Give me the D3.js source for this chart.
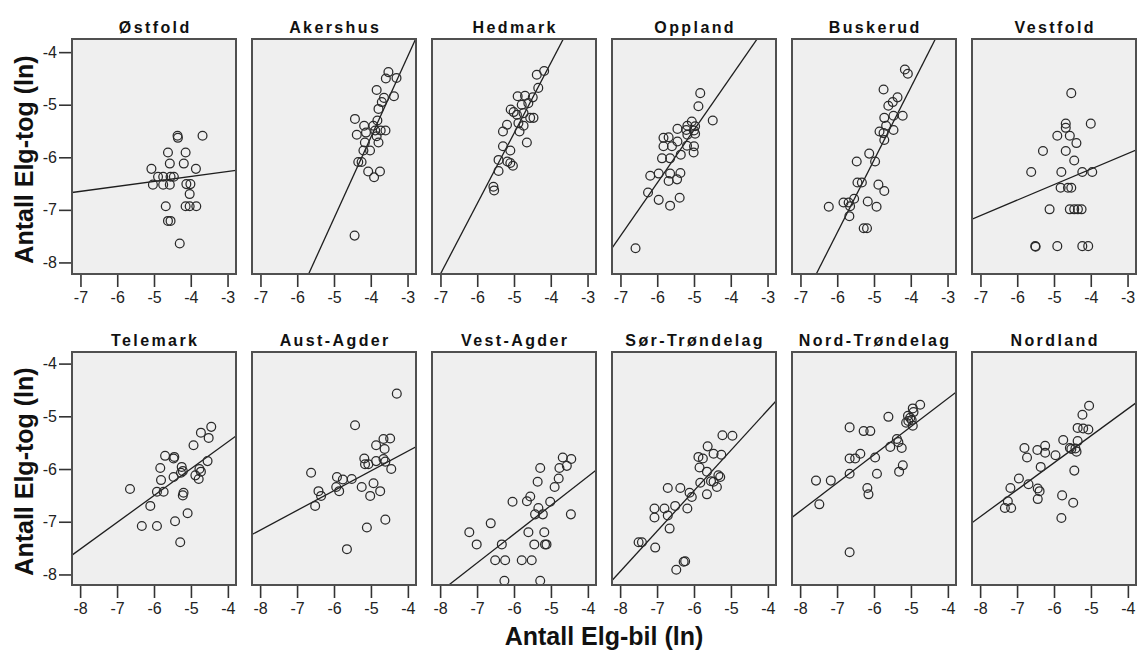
<!DOCTYPE html>
<html>
<head>
<meta charset="utf-8">
<script src="https://cdn.jsdelivr.net/npm/d3@7"></script>
<style>
  html, body { margin: 0; padding: 0; background: #ffffff; }
  svg { display: block; font-family: "Liberation Sans", Arial, sans-serif; }
</style>
</head>
<body>
<svg id="chart" width="1138" height="651"></svg>
<script>
// Moose collisions per county: ln(train collisions) against ln(car collisions)
const counties = ["Østfold", "Akershus", "Hedmark", "Oppland", "Buskerud", "Vestfold",
                  "Telemark", "Aust-Agder", "Vest-Agder", "Sør-Trøndelag", "Nord-Trøndelag", "Nordland"];

// Each point: [ln(Elg-bil), ln(Elg-tog)]
const ostfold = [[-4.36,-5.59],[-4.35,-5.63],[-3.68,-5.59],[-4.62,-5.91],[-4.14,-5.91],[-4.57,-6.12],
  [-4.19,-6.12],[-5.07,-6.22],[-3.86,-6.22],[-4.89,-6.37],[-4.75,-6.37],[-4.55,-6.37],[-4.46,-6.37],
  [-5.03,-6.52],[-4.75,-6.52],[-4.57,-6.52],[-4.12,-6.51],[-4.01,-6.51],[-4.03,-6.70],[-4.68,-6.93],
  [-4.14,-6.93],[-4.03,-6.93],[-3.85,-6.93],[-4.62,-7.21],[-4.55,-7.21],[-4.30,-7.64]];
const akershus = [[-3.52,-4.38],[-3.59,-4.50],[-3.30,-4.49],[-3.84,-4.72],[-3.64,-4.87],[-3.37,-4.84],
  [-3.70,-4.95],[-3.79,-5.08],[-4.43,-5.27],[-3.82,-5.30],[-4.18,-5.40],[-3.93,-5.40],[-4.38,-5.57],
  [-4.13,-5.53],[-3.88,-5.49],[-3.73,-5.49],[-3.60,-5.49],[-4.16,-5.72],[-3.79,-5.72],[-3.84,-5.60],
  [-4.20,-5.87],[-4.02,-5.87],[-4.34,-6.09],[-4.25,-6.09],[-4.07,-6.27],[-3.75,-6.27],[-3.91,-6.38],
  [-4.44,-7.49]];
const hedmark = [[-4.38,-4.43],[-4.18,-4.36],[-4.34,-4.68],[-4.90,-4.84],[-4.70,-4.83],[-4.49,-4.86],
  [-4.79,-5.00],[-4.61,-4.97],[-5.09,-5.09],[-5.01,-5.14],[-4.92,-5.19],[-4.74,-5.16],[-4.56,-5.25],
  [-4.47,-5.25],[-5.19,-5.38],[-4.88,-5.35],[-4.74,-5.40],[-5.30,-5.51],[-4.85,-5.51],[-4.65,-5.72],
  [-5.30,-5.79],[-5.10,-5.87],[-5.42,-6.05],[-5.18,-6.08],[-5.10,-6.11],[-5.03,-6.16],[-5.42,-6.26],
  [-5.56,-6.56],[-5.54,-6.63]];
const oppland = [[-4.83,-4.78],[-4.88,-5.03],[-4.49,-5.30],[-5.06,-5.32],[-5.18,-5.40],[-4.97,-5.41],
  [-5.00,-5.49],[-5.45,-5.46],[-5.21,-5.48],[-5.83,-5.63],[-5.69,-5.62],[-5.18,-5.57],[-4.97,-5.55],
  [-5.45,-5.70],[-5.83,-5.79],[-5.60,-5.79],[-5.19,-5.78],[-5.00,-5.79],[-5.01,-5.91],[-5.87,-6.02],
  [-5.65,-6.02],[-5.36,-5.95],[-6.19,-6.35],[-5.96,-6.31],[-5.65,-6.31],[-5.37,-6.30],[-5.69,-6.45],
  [-5.46,-6.42],[-6.25,-6.67],[-5.96,-6.81],[-5.39,-6.77],[-5.65,-6.92],[-6.59,-7.73]];
const buskerud = [[-4.16,-4.33],[-4.08,-4.41],[-4.74,-4.71],[-4.36,-4.86],[-4.49,-4.95],[-4.61,-5.02],
  [-4.72,-5.25],[-4.47,-5.21],[-4.22,-5.21],[-4.67,-5.40],[-4.85,-5.51],[-4.47,-5.48],[-4.74,-5.54],
  [-4.72,-5.67],[-5.13,-5.93],[-5.47,-6.08],[-4.97,-6.08],[-5.45,-6.48],[-5.33,-6.48],[-4.88,-6.52],
  [-4.72,-6.64],[-5.54,-6.79],[-6.23,-6.94],[-5.83,-6.86],[-5.69,-6.86],[-5.65,-6.93],[-5.17,-6.84],
  [-4.93,-6.94],[-5.67,-7.12],[-5.28,-7.35],[-5.19,-7.35]];
const vestfold = [[-4.53,-4.78],[-4.68,-5.36],[-4.00,-5.36],[-4.68,-5.44],[-4.91,-5.59],[-4.57,-5.59],
  [-4.39,-5.73],[-5.30,-5.88],[-4.68,-5.88],[-4.45,-6.06],[-5.62,-6.28],[-4.80,-6.28],[-4.23,-6.28],
  [-3.96,-6.28],[-4.82,-6.58],[-4.62,-6.58],[-4.53,-6.58],[-5.12,-6.99],[-4.57,-6.99],[-4.45,-6.99],
  [-4.35,-6.99],[-4.25,-6.99],[-5.51,-7.69],[-5.50,-7.70],[-4.91,-7.69],[-4.23,-7.69],[-4.07,-7.69]];
const telemark = [[-4.45,-5.20],[-4.73,-5.31],[-4.52,-5.41],[-4.93,-5.55],[-5.70,-5.75],[-5.45,-5.77],
  [-5.47,-5.80],[-4.55,-5.85],[-5.83,-5.98],[-5.25,-5.96],[-5.22,-6.04],[-5.27,-6.07],[-4.77,-6.00],
  [-4.73,-6.05],[-4.88,-6.12],[-4.79,-6.19],[-5.47,-6.15],[-5.81,-6.21],[-6.65,-6.38],[-5.92,-6.43],
  [-5.74,-6.43],[-5.20,-6.45],[-5.22,-6.50],[-6.10,-6.70],[-5.09,-6.84],[-6.33,-7.08],[-5.92,-7.08],
  [-5.43,-6.99],[-5.29,-7.39]];
const austAgder = [[-4.30,-4.57],[-5.43,-5.17],[-4.66,-5.43],[-4.48,-5.42],[-4.86,-5.55],[-4.63,-5.62],
  [-5.18,-5.80],[-5.16,-5.91],[-5.07,-5.91],[-4.86,-5.85],[-4.66,-5.81],[-4.61,-5.86],[-4.45,-6.00],
  [-6.62,-6.07],[-5.92,-6.15],[-5.76,-6.20],[-5.52,-6.19],[-5.94,-6.34],[-5.86,-6.42],[-5.25,-6.34],
  [-4.93,-6.27],[-4.75,-6.42],[-6.42,-6.42],[-6.35,-6.51],[-5.02,-6.51],[-6.51,-6.70],[-4.61,-6.96],
  [-5.11,-7.11],[-5.65,-7.52]];
const vestAgder = [[-4.68,-5.78],[-4.45,-5.81],[-4.77,-5.98],[-4.57,-5.94],[-5.29,-5.98],[-4.79,-6.18],
  [-5.36,-6.24],[-4.90,-6.34],[-5.56,-6.52],[-5.65,-6.61],[-6.04,-6.62],[-5.02,-6.62],[-5.34,-6.74],
  [-5.43,-6.86],[-5.22,-6.86],[-4.46,-6.86],[-6.63,-7.03],[-7.21,-7.20],[-5.61,-7.20],[-5.18,-7.20],
  [-7.01,-7.43],[-6.33,-7.43],[-5.45,-7.43],[-5.16,-7.43],[-5.12,-7.43],[-6.51,-7.73],[-6.24,-7.73],
  [-5.79,-7.73],[-5.52,-7.73],[-6.26,-8.12],[-5.29,-8.12]];
const sorTrondelag = [[-5.23,-5.36],[-4.96,-5.37],[-5.63,-5.57],[-5.47,-5.71],[-5.26,-5.73],[-5.88,-5.77],
  [-5.76,-5.80],[-5.85,-5.97],[-5.65,-6.05],[-5.34,-6.12],[-5.29,-6.15],[-5.54,-6.23],[-5.47,-6.24],
  [-5.38,-6.34],[-5.83,-6.26],[-5.65,-6.48],[-6.71,-6.36],[-6.37,-6.36],[-6.12,-6.45],[-6.06,-6.53],
  [-7.07,-6.75],[-6.80,-6.75],[-6.51,-6.70],[-6.18,-6.75],[-7.07,-6.92],[-6.71,-6.88],[-6.66,-7.13],
  [-7.50,-7.39],[-7.41,-7.39],[-7.05,-7.49],[-6.24,-7.75],[-6.28,-7.76],[-6.48,-7.91]];
const nordTrondelag = [[-4.75,-4.78],[-4.95,-4.85],[-4.93,-4.92],[-5.08,-4.99],[-5.02,-5.03],[-4.98,-5.07],
  [-5.13,-5.12],[-4.95,-5.18],[-5.07,-5.09],[-5.61,-5.01],[-6.66,-5.21],[-6.28,-5.28],[-6.10,-5.28],
  [-5.38,-5.43],[-5.34,-5.49],[-5.56,-5.58],[-5.25,-5.60],[-6.37,-5.71],[-6.51,-5.80],[-6.66,-5.80],
  [-5.97,-5.78],[-5.22,-5.93],[-5.32,-6.05],[-5.92,-6.09],[-6.66,-6.09],[-7.57,-6.22],[-7.17,-6.22],
  [-6.18,-6.36],[-6.15,-6.48],[-7.48,-6.67],[-6.66,-7.58]];
const nordland = [[-5.05,-4.80],[-5.23,-4.97],[-5.36,-5.22],[-5.21,-5.23],[-5.07,-5.25],[-5.75,-5.45],
  [-5.36,-5.47],[-6.80,-5.60],[-6.45,-5.64],[-6.24,-5.56],[-6.24,-5.69],[-6.73,-5.78],[-5.96,-5.74],
  [-5.57,-5.60],[-5.53,-5.62],[-5.42,-5.61],[-5.39,-5.67],[-6.36,-5.96],[-5.45,-6.03],[-6.95,-6.18],
  [-6.69,-6.29],[-7.18,-6.36],[-6.44,-6.37],[-6.39,-6.42],[-6.44,-6.57],[-7.25,-6.61],[-7.33,-6.74],
  [-7.16,-6.74],[-5.78,-6.50],[-5.48,-6.64],[-5.80,-6.93]];

const countyPoints = [ostfold, akershus, hedmark, oppland, buskerud, vestfold,
                      telemark, austAgder, vestAgder, sorTrondelag, nordTrondelag, nordland];

// Linear fit per county: ln(tog) = intercept + slope * ln(bil)
const fitSlope     = [0.094, 1.536, 1.338, 1.008, 1.380, 0.294, 0.509, 0.375, 0.546, 0.767, 0.535, 0.512];
const fitIntercept = [-5.99, 0.52, 1.146, -0.44, 0.847, -5.05, -3.45, -4.16, -3.96, -1.81, -2.52, -2.81];

const xTicksTop = [-7, -6, -5, -4, -3];
const xTicksBottom = [-8, -7, -6, -5, -4];
const yTicks = [-8, -7, -6, -5, -4];

const yTitle = "Antall Elg-tog (ln)";
const xTitle = "Antall Elg-bil (ln)";

// ---- layout ----
const svg = d3.select("#chart");
const panelW = 164, colStep = 180, firstLeft = 72;
const rows = [
  { top: 39,  bottom: 274, xDomain: [-7.23, -2.77], yDomain: [-8.22, -3.75], xTicks: xTicksTop },
  { top: 352, bottom: 585, xDomain: [-8.22, -3.78], yDomain: [-8.20, -3.78], xTicks: xTicksBottom }
];

// plain hyphen-minus for tick labels
const tickFmt = d => String(d);

const defs = svg.append("defs");

counties.forEach((name, i) => {
  const r = rows[Math.floor(i / 6)];
  const col = i % 6;
  const left = firstLeft + col * colStep;
  const h = r.bottom - r.top;

  const x = d3.scaleLinear().domain(r.xDomain).range([0, panelW]);
  const y = d3.scaleLinear().domain(r.yDomain).range([h, 0]);

  const g = svg.append("g").attr("transform", `translate(${left},${r.top})`);

  defs.append("clipPath").attr("id", "clip" + i)
    .append("rect").attr("width", panelW).attr("height", h);

  // plot area
  g.append("rect").attr("width", panelW).attr("height", h)
    .attr("fill", "#efefef");

  // fitted line
  const xd = r.xDomain;
  g.append("path")
    .attr("clip-path", `url(#clip${i})`)
    .datum(xd.map(v => [v, fitIntercept[i] + fitSlope[i] * v]))
    .attr("d", d3.line().x(d => x(d[0])).y(d => y(d[1])))
    .attr("fill", "none").attr("stroke", "#1e1e1e").attr("stroke-width", 1.3);

  // points
  g.append("g").attr("clip-path", `url(#clip${i})`)
    .selectAll("circle").data(countyPoints[i]).join("circle")
    .attr("cx", d => x(d[0])).attr("cy", d => y(d[1])).attr("r", 4.4)
    .attr("fill", "none").attr("stroke", "#2a2a2a").attr("stroke-width", 1.25);

  // frame
  g.append("rect").attr("width", panelW).attr("height", h)
    .attr("fill", "none").attr("stroke", "#505050").attr("stroke-width", 2);

  // x axis
  const xa = g.append("g").attr("transform", `translate(0,${h + 1})`)
    .call(d3.axisBottom(x).tickValues(r.xTicks).tickSize(12).tickPadding(5).tickFormat(tickFmt));
  styleAxis(xa);

  // y axis on the first column only
  if (col === 0) {
    const ya = g.append("g").attr("transform", "translate(-1,0)")
      .call(d3.axisLeft(y).tickValues(yTicks).tickSize(12).tickPadding(2).tickFormat(tickFmt));
    styleAxis(ya);

    g.append("text")
      .attr("transform", `translate(-39,${h / 2 + 3}) rotate(-90)`)
      .attr("text-anchor", "middle")
      .attr("font-size", 25).attr("font-weight", "bold").attr("fill", "#111")
      .text(yTitle);
  }

  // panel title
  g.append("text")
    .attr("x", panelW / 2 + 1.2).attr("y", -6)
    .attr("text-anchor", "middle")
    .attr("font-size", 16).attr("font-weight", "bold")
    .attr("letter-spacing", "2.4px").attr("fill", "#111")
    .text(name);
});

function styleAxis(sel) {
  sel.select(".domain").remove();
  sel.selectAll(".tick line").attr("stroke", "#333").attr("stroke-width", 1.6);
  sel.selectAll(".tick text").attr("font-size", 16).attr("fill", "#222")
    .attr("font-family", "'Liberation Sans', Arial, sans-serif");
}

// shared x axis title
svg.append("text")
  .attr("x", 604).attr("y", 645)
  .attr("text-anchor", "middle")
  .attr("font-size", 25).attr("font-weight", "bold").attr("fill", "#111")
  .text(xTitle);
</script>
</body>
</html>
